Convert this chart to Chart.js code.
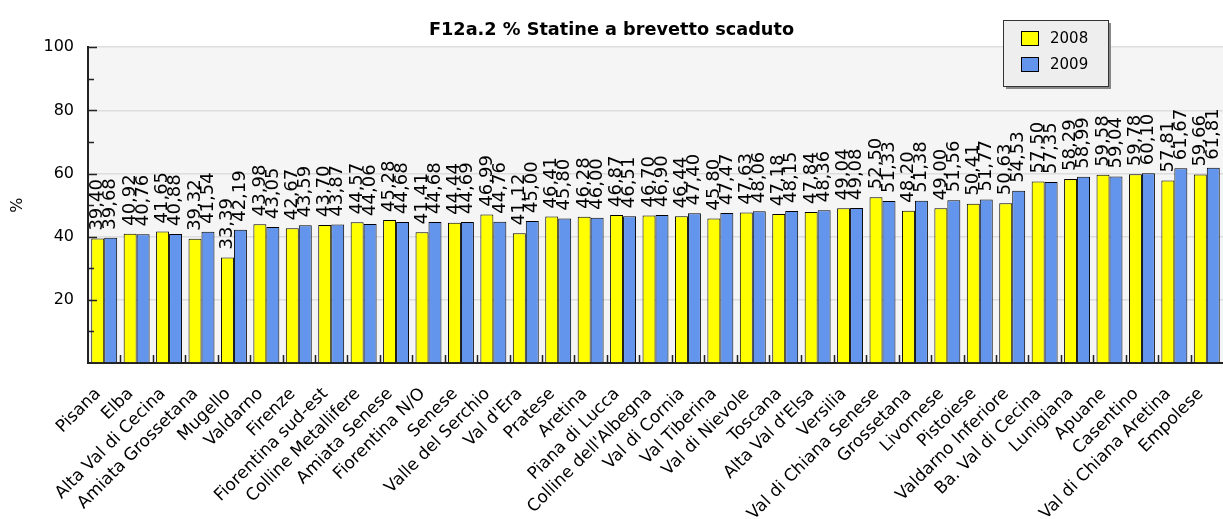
<!DOCTYPE html>
<html>
<head>
<meta charset="utf-8">
<script src="https://cdn.jsdelivr.net/npm/chart.js@4.4.1/dist/chart.umd.min.js"></script>
<style>
  html, body { margin: 0; padding: 0; background: #ffffff; }
  #wrap { width: 1223px; height: 519px; }
</style>
</head>
<body>
<div id="wrap"><canvas id="c" width="1223" height="519"></canvas></div>
<script>
const categories = ["Pisana", "Elba", "Alta Val di Cecina", "Amiata Grossetana", "Mugello", "Valdarno", "Firenze", "Fiorentina sud-est", "Colline Metallifere", "Amiata Senese", "Fiorentina N/O", "Senese", "Valle del Serchio", "Val d'Era", "Pratese", "Aretina", "Piana di Lucca", "Colline dell'Albegna", "Val di Cornia", "Val Tiberina", "Val di Nievole", "Toscana", "Alta Val d'Elsa", "Versilia", "Val di Chiana Senese", "Grossetana", "Livornese", "Pistoiese", "Valdarno Inferiore", "Ba. Val di Cecina", "Lunigiana", "Apuane", "Casentino", "Val di Chiana Aretina", "Empolese"];
const values2008 = [39.40, 40.92, 41.65, 39.32, 33.39, 43.98, 42.67, 43.70, 44.57, 45.28, 41.41, 44.44, 46.99, 41.12, 46.41, 46.28, 46.87, 46.70, 46.44, 45.80, 47.63, 47.18, 47.84, 49.04, 52.50, 48.20, 49.00, 50.41, 50.63, 57.50, 58.29, 59.58, 59.78, 57.81, 59.66];
const values2009 = [39.68, 40.76, 40.88, 41.54, 42.19, 43.05, 43.59, 43.87, 44.06, 44.68, 44.68, 44.69, 44.76, 45.00, 45.80, 46.00, 46.51, 46.90, 47.40, 47.47, 48.06, 48.15, 48.36, 49.08, 51.33, 51.38, 51.56, 51.77, 54.53, 57.35, 58.99, 59.04, 60.10, 61.67, 61.81];
const seriesLabels = ["2008", "2009"];
const yTickValues = [20, 40, 60, 80, 100];
const chartTitle = "F12a.2 % Statine a brevetto scaduto";
const yAxisTitle = "%";

const FONT = "'DejaVu Sans', Verdana, sans-serif";

const decorPlugin = {
  id: 'decor',
  beforeDraw(chart) {
    const { ctx, chartArea: a } = chart;
    ctx.save();
    ctx.fillStyle = '#f5f5f5';
    ctx.fillRect(a.left, a.top, a.right - a.left, a.bottom - a.top);
    ctx.restore();
  },
  afterDatasetsDraw(chart) {
    const { ctx, chartArea: a } = chart;
    const xs = chart.scales.x, ys = chart.scales.y;
    ctx.save();
    // value labels
    ctx.fillStyle = '#000';
    ctx.font = "18px " + FONT;
    ctx.textAlign = 'left';
    ctx.textBaseline = 'middle';
    chart.data.datasets.forEach((ds, di) => {
      const meta = chart.getDatasetMeta(di);
      meta.data.forEach((el, i) => {
        const txt = ds.data[i].toFixed(2).replace('.', ',');
        ctx.save();
        ctx.translate(el.x, el.y - 8);
        ctx.rotate(-Math.PI / 2);
        ctx.fillText(txt, 0, 0);
        ctx.restore();
      });
    });
    // y tick marks (inward)
    ctx.strokeStyle = '#222';
    ctx.lineWidth = 1.5;
    for (let v = 10; v <= 100; v += 10) {
      const y = Math.round(ys.getPixelForValue(v)) + 0.5;
      const len = (v % 20 === 0) ? 9 : 6;
      ctx.beginPath();
      ctx.moveTo(a.left, y);
      ctx.lineTo(a.left + len, y);
      ctx.stroke();
    }
    // x category boundary marks (upward)
    const n = categories.length;
    for (let i = 1; i < n; i++) {
      const x = Math.round((xs.getPixelForValue(i - 1) + xs.getPixelForValue(i)) / 2) + 0.5;
      ctx.beginPath();
      ctx.moveTo(x, a.bottom);
      ctx.lineTo(x, a.bottom - 8);
      ctx.stroke();
    }
    ctx.restore();
  },
  afterDraw(chart) {
    const { ctx } = chart;
    ctx.save();
    // legend box
    const bx = 1003, by = 20, bw = 105, bh = 66;
    ctx.fillStyle = '#888';
    ctx.fillRect(bx + 3, by + 3, bw, bh);
    ctx.fillStyle = '#eeeeee';
    ctx.fillRect(bx, by, bw, bh);
    ctx.strokeStyle = '#333';
    ctx.lineWidth = 1;
    ctx.strokeRect(bx + 0.5, by + 0.5, bw, bh);
    ctx.font = "15px " + FONT;
    ctx.textAlign = 'left';
    ctx.textBaseline = 'middle';
    chart.data.datasets.forEach((ds, di) => {
      const sy = by + 11 + di * 26;
      ctx.fillStyle = ds.backgroundColor;
      ctx.fillRect(bx + 18, sy, 18, 15);
      ctx.strokeStyle = '#000';
      ctx.strokeRect(bx + 18.5, sy + 0.5, 17, 14);
      ctx.fillStyle = '#000';
      ctx.fillText(ds.label, bx + 47, sy + 8);
    });
    ctx.restore();
  }
};

new Chart(document.getElementById('c'), {
  type: 'bar',
  data: {
    labels: categories,
    datasets: [
      { label: seriesLabels[0], data: values2008, backgroundColor: '#ffff00', borderColor: '#000', borderWidth: 1, categoryPercentage: 0.8, barPercentage: 1.0 },
      { label: seriesLabels[1], data: values2009, backgroundColor: '#6495ed', borderColor: '#000', borderWidth: 1, categoryPercentage: 0.8, barPercentage: 1.0 }
    ]
  },
  options: {
    responsive: false,
    animation: false,
    devicePixelRatio: 1,
    layout: { padding: { left: 0, right: 0, top: 0, bottom: 0 } },
    plugins: {
      legend: { display: false },
      tooltip: { enabled: false },
      title: {
        display: true,
        text: chartTitle,
        color: '#000',
        font: { family: FONT, size: 17.7, weight: 'bold' },
        padding: { top: 20, bottom: 6 }
      }
    },
    scales: {
      x: {
        grid: { display: false },
        border: { display: true, color: '#222', width: 2 },
        ticks: {
          autoSkip: false, maxRotation: 45, minRotation: 45,
          color: '#000', font: { family: FONT, size: 17 }, padding: 13, labelOffset: -6
        },
        afterFit(s) { s.height = 156; s.paddingLeft = 0; s.paddingRight = 0; }
      },
      y: {
        min: 0, max: 100,
        grid: { color: '#dddddd', lineWidth: 1.5, drawTicks: false },
        border: { display: true, color: '#222', width: 2 },
        ticks: {
          stepSize: 20, color: '#000', font: { family: FONT, size: 16 }, padding: 14,
          callback: (v) => yTickValues.includes(v) ? String(v) : ''
        },
        title: {
          display: true, text: yAxisTitle, color: '#000',
          font: { family: FONT, size: 16 }, padding: { top: 8, bottom: 0 }
        },
        afterFit(s) { s.width = 88; s.paddingTop = 0; s.paddingBottom = 0; }
      }
    }
  },
  plugins: [decorPlugin]
});
</script>
</body>
</html>
